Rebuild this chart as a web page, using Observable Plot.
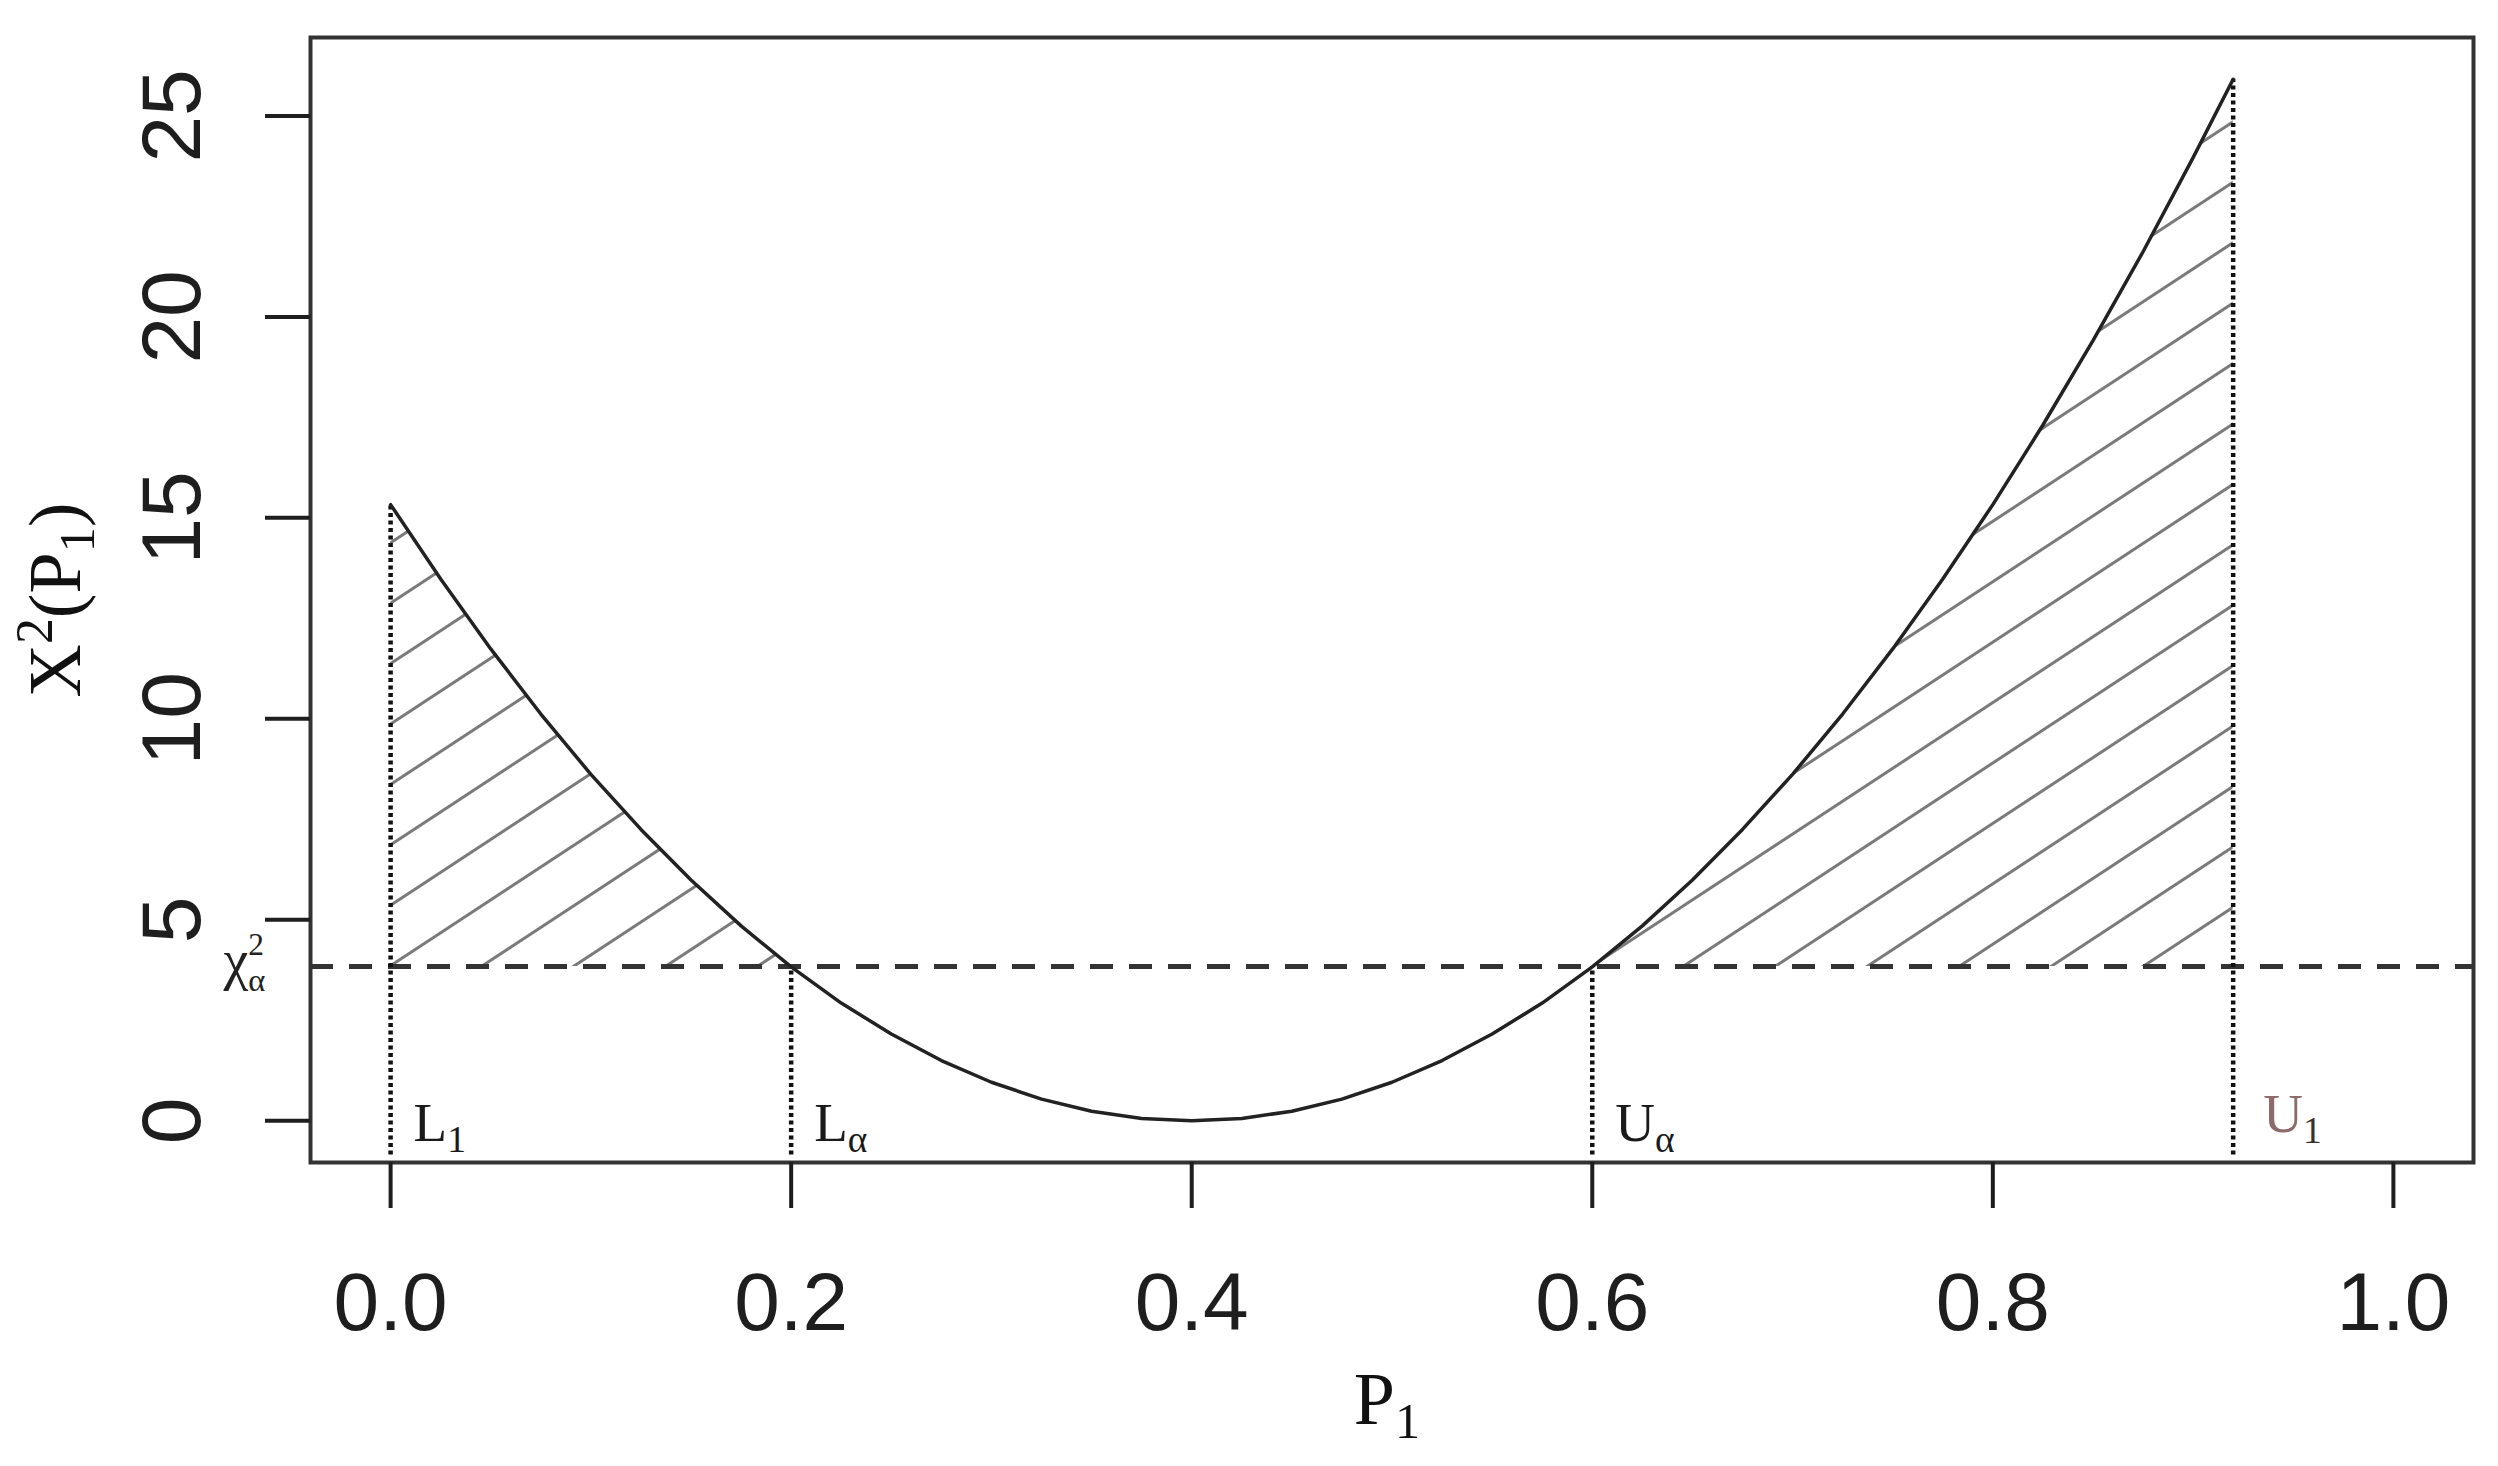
<!DOCTYPE html>
<html>
<head>
<meta charset="utf-8">
<script src="https://cdn.jsdelivr.net/npm/d3@7"></script>
<script src="https://cdn.jsdelivr.net/npm/@observablehq/plot@0.6"></script>
<style>
  html, body { margin: 0; padding: 0; background: #ffffff; }
  #chart svg { display: block; }
</style>
</head>
<body>
<div id="chart"></div>
<script>
// ---- data ----
const p1Values = [0, 0.025, 0.05, 0.075, 0.1, 0.125, 0.15, 0.175, 0.2, 0.225, 0.25, 0.275, 0.3, 0.325, 0.35, 0.375, 0.4,
  0.425, 0.45, 0.475, 0.5, 0.525, 0.55, 0.575, 0.6, 0.625, 0.65, 0.675, 0.7, 0.725, 0.75, 0.775, 0.8, 0.825, 0.85, 0.875, 0.9, 0.92];
const chi2Values = [15.33, 13.48, 11.74, 10.12, 8.62, 7.25, 5.99, 4.85, 3.83, 2.93, 2.16, 1.50, 0.96, 0.54, 0.24, 0.06, 0,
  0.06, 0.24, 0.54, 0.96, 1.50, 2.16, 2.93, 3.83, 4.85, 5.99, 7.25, 8.62, 10.12, 11.74, 13.48, 15.33, 17.31, 19.41, 21.62, 23.96, 25.91];
const criticalValue = 3.84;
const boundX = [0, 0.2, 0.6, 0.92];
const boundTop = [15.33, 3.84, 3.84, 25.91];
const boundBottom = -0.85;
const boundLabels = ["L_1", "L_α", "U_α", "U_1"];
const xTicks = [0, 0.2, 0.4, 0.6, 0.8, 1.0];
const yTicks = [0, 5, 10, 15, 20, 25];
const xTitle = "P_1";
const yTitle = "X^2(P_1)";
const critLabel = "χ^2_α";

// ---- derived tables ----
const curve = p1Values.map((p, i) => ({p, v: chi2Values[i]}));
const leftTail = curve.filter(d => d.p <= boundX[1]);
const rightTail = curve.filter(d => d.p >= boundX[2]);
const bounds = boundX.map((x, i) => ({x, top: boundTop[i], label: boundLabels[i]}));
const crit = [{v: criticalValue, label: critLabel}];

const serif = "'Liberation Serif', 'DejaVu Serif', serif";
const sans = "'Liberation Sans', Arial, sans-serif";

const chart = Plot.plot({
  width: 2498,
  height: 1466,
  marginLeft: 310,
  marginRight: 25,
  marginTop: 37,
  marginBottom: 304,
  style: {background: "#ffffff", fontFamily: sans, color: "#1e1e1e"},
  x: {domain: [-0.04, 1.04]},
  y: {domain: [-1.036, 26.95]},
  marks: [
    Plot.areaY(leftTail, {x: "p", y1: criticalValue, y2: "v", fill: "url(#hatchL)"}),
    Plot.areaY(rightTail, {x: "p", y1: criticalValue, y2: "v", fill: "url(#hatchR)"}),
    Plot.ruleY(crit, {y: "v", stroke: "#333333", strokeWidth: 5, strokeDasharray: "23,16"}),
    Plot.ruleX(bounds, {x: "x", y1: boundBottom, y2: "top", stroke: "#111111", strokeWidth: 4.5, strokeDasharray: "4,3.5"}),
    Plot.line(curve, {x: "p", y: "v", stroke: "#222222", strokeWidth: 3.5}),
    Plot.frame({stroke: "#333333", strokeWidth: 4}),
    Plot.axisX(xTicks, {
      tickSize: 46, tickPadding: 63, fontSize: 82, fontFamily: sans,
      tickFormat: d3.format(".1f"), color: "#1e1e1e", strokeWidth: 4, label: null
    }),
    // y ticks (no text) + rotated y tick labels
    Plot.axisY(yTicks, {tickSize: 45, tickFormat: () => "", color: "#1e1e1e", strokeWidth: 4, label: null}),
    Plot.text(yTicks, {y: d => d, text: d => String(d), frameAnchor: "left", rotate: -90, textAnchor: "middle",
      lineAnchor: "bottom", dx: -111, fontSize: 84, fontFamily: sans, fill: "#1e1e1e"}),
    // axis titles
    Plot.text([yTitle], {text: d => d, frameAnchor: "left", rotate: -90, textAnchor: "middle", lineAnchor: "bottom",
      dx: -231, fontSize: 74, fontFamily: serif, fill: "#111111"}),
    Plot.text([xTitle], {text: d => d, frameAnchor: "bottom", textAnchor: "middle", lineAnchor: "bottom",
      dx: -5, dy: 261, fontSize: 74, fontFamily: serif, fill: "#111111"}),
    // critical value label
    Plot.text(crit, {y: "v", text: "label", frameAnchor: "left", textAnchor: "start", lineAnchor: "bottom",
      dx: -87, dy: 13, fontSize: 56, fontFamily: serif, fill: "#222222"}),
    // bound labels
    Plot.text(bounds.filter(d => d.label !== "U_1"), {x: "x", text: "label", frameAnchor: "bottom", textAnchor: "start",
      lineAnchor: "bottom", dx: 23, dy: -22, fontSize: 55, fontFamily: serif, fill: "#1a1a1a"}),
    Plot.text(bounds.filter(d => d.label === "U_1"), {x: "x", text: "label", frameAnchor: "bottom", textAnchor: "start",
      lineAnchor: "bottom", dx: 30, dy: -31, fontSize: 55, fontFamily: serif, fill: "#8d6b6b"})
  ]
});

document.getElementById("chart").appendChild(chart);

// ---- hatch patterns ----
const svg = d3.select(chart);
const defs = svg.insert("defs", ":first-child");
const sx = chart.scale("x"), sy = chart.scale("y");
function hatch(id, x0, y0) {
  const gap = 50.5, angle = -33.3, w = 3;
  const pat = defs.append("pattern")
    .attr("id", id)
    .attr("patternUnits", "userSpaceOnUse")
    .attr("width", 200)
    .attr("height", gap)
    .attr("patternTransform", `translate(${x0},${y0}) rotate(${angle}) translate(0,${-gap / 2})`);
  pat.append("rect").attr("x", -1).attr("y", gap / 2 - w / 2).attr("width", 202).attr("height", w).attr("fill", "#7a7a7a");
}
hatch("hatchL", sx.apply(boundX[0]), sy.apply(criticalValue));
hatch("hatchR", sx.apply(boundX[2]), sy.apply(criticalValue));

// ---- sub/superscripts as tspans ----
svg.selectAll("text").each(function() {
  const s = this.textContent;
  if (!/[\^_]/.test(s)) return;
  const stacked = s === critLabel;
  const fs = parseFloat(getComputedStyle(this).fontSize);
  const supShift = stacked ? -0.44 * fs : -0.37 * fs;
  const subShift = stacked ? 0.21 * fs : 0.2 * fs;
  const supSize = stacked ? 0.56 * fs : 0.7 * fs;
  const subSize = stacked ? 0.58 * fs : 0.68 * fs;
  const el = d3.select(this);
  el.text(null);
  const chars = Array.from(s);
  let cur = 0, i = 0, lastSup = null;
  while (i < chars.length) {
    let c = chars[i], shift = 0, kind = "normal";
    if (c === "^" || c === "_") {
      kind = c === "^" ? "sup" : "sub";
      shift = kind === "sub" ? subShift : supShift;
      c = chars[i + 1];
      i += 2;
    } else {
      i += 1;
    }
    const t = el.append("tspan").text(c);
    if (kind === "sup") t.attr("font-size", supSize.toFixed(1));
    if (kind === "sub") t.attr("font-size", subSize.toFixed(1));
    if (shift !== cur) { t.attr("dy", (shift - cur).toFixed(2)); cur = shift; }
    if (stacked && kind === "sub" && lastSup) {
      t.attr("dx", (-lastSup.node().getComputedTextLength()).toFixed(2));
    }
    if (kind === "sub" && s === "U_1") t.attr("fill", "#3a3030");
    lastSup = kind === "sup" ? t : null;
  }
});
</script>
</body>
</html>
